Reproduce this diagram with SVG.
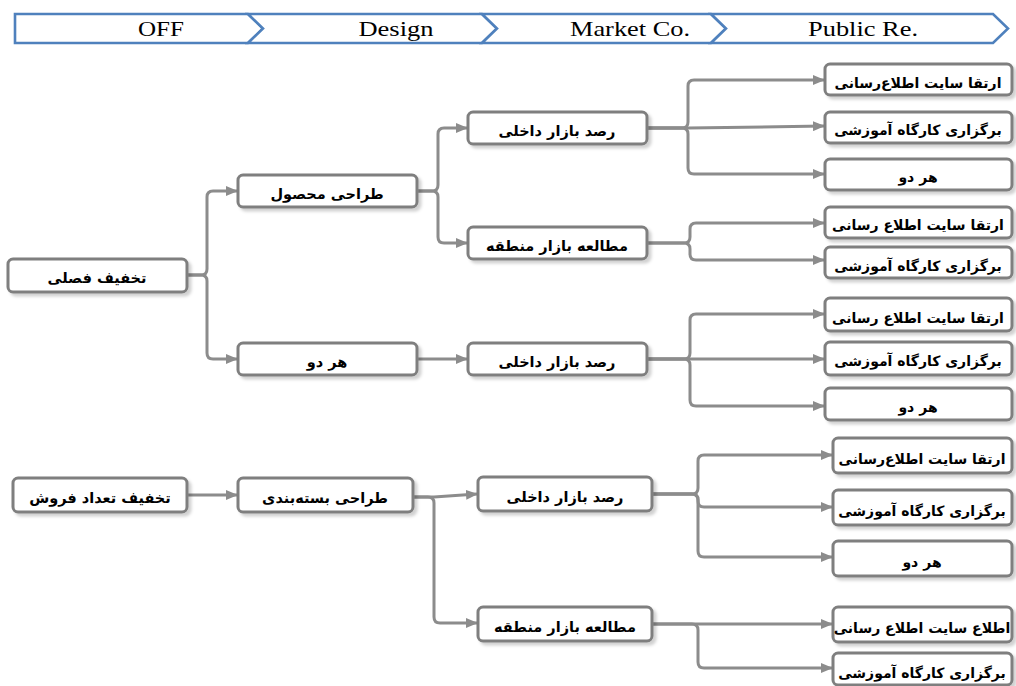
<svg xmlns="http://www.w3.org/2000/svg" width="1016" height="686" viewBox="0 0 1016 686">
<style>
.hdr{fill:#fff;stroke:#4f81bd;stroke-width:2.6;stroke-linejoin:miter}
.ht{font-family:"Liberation Serif","Times New Roman",serif;font-size:22px;fill:#000;text-anchor:middle}
.box{fill:#fff;stroke:#7f7f7f;stroke-width:3;filter:url(#sh)}
.t{font-family:"DejaVu Sans","Noto Sans",sans-serif;font-weight:bold;font-size:14.5px;fill:#000;text-anchor:middle;dominant-baseline:central;direction:rtl;unicode-bidi:plaintext}
.t4{font-size:14px}
.c{fill:none;stroke:#8c8c8c;stroke-width:3;marker-end:url(#ah)}
</style>
<defs>
<marker id="ah" viewBox="0 0 12 10" refX="11" refY="5" markerWidth="12" markerHeight="10" markerUnits="userSpaceOnUse" orient="auto">
<path d="M0,0 L12,5 L0,10 Z" fill="#8c8c8c"/>
</marker>
<filter id="sh" x="-5%" y="-20%" width="115%" height="160%">
<feDropShadow dx="3" dy="3" stdDeviation="1.5" flood-color="#000" flood-opacity="0.18"/>
</filter>
</defs>

<g id="header">
<path class="hdr" d="M15,14 H248 L263,28.5 L248,43 H15 Z"/>
<path class="hdr" d="M248,14 H482 L497,28.5 L482,43 H248 L263,28.5 Z"/>
<path class="hdr" d="M482,14 H711 L726,28.5 L711,43 H482 L497,28.5 Z"/>
<path class="hdr" d="M711,14 H993 L1008,28.5 L993,43 H711 L726,28.5 Z"/>
<text class="ht" x="161" y="36" textLength="46" lengthAdjust="spacingAndGlyphs">OFF</text>
<text class="ht" x="396" y="36" textLength="75" lengthAdjust="spacingAndGlyphs">Design</text>
<text class="ht" x="630" y="36" textLength="120" lengthAdjust="spacingAndGlyphs">Market Co.</text>
<text class="ht" x="863" y="36" textLength="110" lengthAdjust="spacingAndGlyphs">Public Re.</text>
</g>

<g id="connectors">
<path class="c" d="M187,275 H201 Q207,275 207,269 V197 Q207,191 213,191 H237"/>
<path class="c" d="M187,275 H201 Q207,275 207,281 V353 Q207,359 213,359 H237"/>
<path class="c" d="M417,191 H432 Q438,191 438,185 V134 Q438,128 444,128 H467"/>
<path class="c" d="M417,191 H432 Q438,191 438,197 V237 Q438,243 444,243 H467"/>
<path class="c" d="M417,359 H467"/>
<path class="c" d="M647,128 H682 Q688,128 688,122 V86 Q688,80 694,80 H824"/>
<path class="c" d="M647,128 H688 L824,126"/>
<path class="c" d="M647,128 H682 Q688,128 688,134 V168 Q688,174 694,174 H824"/>
<path class="c" d="M647,243 H684 Q690,243 690,237 V229 Q690,223 696,223 H824"/>
<path class="c" d="M647,243 H684 Q690,243 690,249 V254 Q690,260 696,260 H824"/>
<path class="c" d="M647,359 H684 Q690,359 690,353 V320 Q690,314 696,314 H824"/>
<path class="c" d="M647,359 H824"/>
<path class="c" d="M647,359 H684 Q690,359 690,365 V400 Q690,406 696,406 H824"/>
<path class="c" d="M187,495 H237"/>
<path class="c" d="M413,497 H434 L477,494"/>
<path class="c" d="M413,497 H428 Q434,497 434,503 V617 Q434,623 440,623 H477"/>
<path class="c" d="M652,494 H692 Q698,494 698,488 V461 Q698,455 704,455 H832"/>
<path class="c" d="M652,494 H692 Q698,494 698,500 V501 Q698,507 704,507 H832"/>
<path class="c" d="M652,494 H692 Q698,494 698,500 V551 Q698,557 704,557 H832"/>
<path class="c" d="M652,624 H832"/>
<path class="c" d="M652,624 H692 Q698,624 698,630 V662 Q698,668 704,668 H832"/>
</g>

<g id="n1"><rect class="box" x="8" y="259" width="179" height="33" rx="5"/><text class="t" x="97" y="278">تخفیف فصلی</text></g>
<g id="n2"><rect class="box" x="13" y="478" width="174" height="34" rx="5"/><text class="t" x="100" y="498">تخفیف تعداد فروش</text></g>
<g id="n3"><rect class="box" x="238" y="175" width="179" height="32" rx="5"/><text class="t" x="327" y="194">طراحی محصول</text></g>
<g id="n4"><rect class="box" x="238" y="343" width="179" height="32" rx="5"/><text class="t" x="327" y="362">هر دو</text></g>
<g id="n5"><rect class="box" x="238" y="478" width="175" height="34" rx="5"/><text class="t" x="325" y="498">طراحی بسته&#x200C;بندی</text></g>
<g id="n6"><rect class="box" x="468" y="112" width="179" height="32" rx="5"/><text class="t" x="557" y="131">رصد بازار داخلی</text></g>
<g id="n7"><rect class="box" x="468" y="227" width="179" height="32" rx="5"/><text class="t" x="557" y="246">مطالعه بازار منطقه</text></g>
<g id="n8"><rect class="box" x="468" y="343" width="179" height="32" rx="5"/><text class="t" x="557" y="362">رصد بازار داخلی</text></g>
<g id="n9"><rect class="box" x="478" y="477" width="174" height="34" rx="5"/><text class="t" x="565" y="497">رصد بازار داخلی</text></g>
<g id="n10"><rect class="box" x="478" y="607" width="174" height="34" rx="5"/><text class="t" x="565" y="627">مطالعه بازار منطقه</text></g>
<g id="n11"><rect class="box" x="825" y="64" width="187" height="31" rx="5"/><text class="t t4" x="918" y="83">ارتقا سایت اطلاع&#x200C;رسانی</text></g>
<g id="n12"><rect class="box" x="825" y="112" width="187" height="31" rx="5"/><text class="t t4" x="918" y="130">برگزاری کارگاه آموزشی</text></g>
<g id="n13"><rect class="box" x="825" y="159" width="187" height="31" rx="5"/><text class="t t4" x="918" y="177">هر دو</text></g>
<g id="n14"><rect class="box" x="825" y="207" width="187" height="31" rx="5"/><text class="t t4" x="918" y="225">ارتقا سایت اطلاع رسانی</text></g>
<g id="n15"><rect class="box" x="825" y="247" width="187" height="31" rx="5"/><text class="t t4" x="918" y="266">برگزاری کارگاه آموزشی</text></g>
<g id="n16"><rect class="box" x="825" y="298" width="187" height="33" rx="5"/><text class="t t4" x="918" y="318">ارتقا سایت اطلاع رسانی</text></g>
<g id="n17"><rect class="box" x="825" y="342" width="187" height="33" rx="5"/><text class="t t4" x="918" y="361">برگزاری کارگاه آموزشی</text></g>
<g id="n18"><rect class="box" x="825" y="388" width="187" height="32" rx="5"/><text class="t t4" x="918" y="407">هر دو</text></g>
<g id="n19"><rect class="box" x="833" y="438" width="179" height="35" rx="5"/><text class="t t4" x="922" y="459">ارتقا سایت اطلاع&#x200C;رسانی</text></g>
<g id="n20"><rect class="box" x="833" y="490" width="179" height="35" rx="5"/><text class="t t4" x="922" y="511">برگزاری کارگاه آموزشی</text></g>
<g id="n21"><rect class="box" x="833" y="541" width="179" height="35" rx="5"/><text class="t t4" x="922" y="562">هر دو</text></g>
<g id="n22"><rect class="box" x="833" y="607" width="179" height="35" rx="5"/><text class="t t4" x="922" y="628">اطلاع سایت اطلاع رسانی</text></g>
<g id="n23"><rect class="box" x="833" y="653" width="179" height="32" rx="5"/><text class="t t4" x="922" y="673">برگزاری کارگاه آموزشی</text></g>
</svg>
